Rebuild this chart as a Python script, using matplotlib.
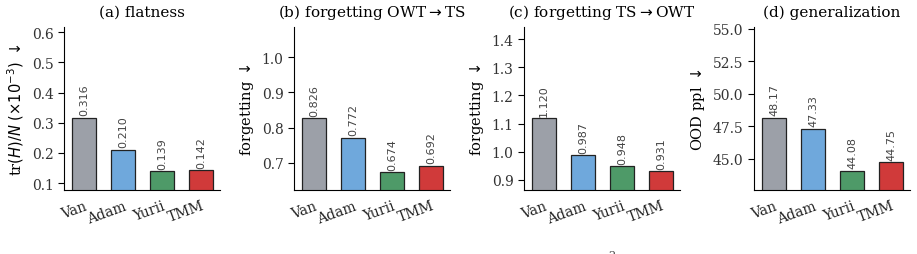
import matplotlib
matplotlib.use("Agg")
import matplotlib.pyplot as plt
import numpy as np

methods = ["Van", "Adam", "Yurii", "TMM"]
colors = ["#9ca0a8", "#6fa8dc", "#4e9a68", "#d03a3a"]

flatness = [0.316, 0.210, 0.139, 0.142]
forget_owt_ts = [0.826, 0.772, 0.674, 0.692]
forget_ts_owt = [1.120, 0.987, 0.948, 0.931]
ood_ppl = [48.17, 47.33, 44.08, 44.75]

panels = [
    ("(a) flatness", r"tr$(H)/N$ $(\times 10^{-3})$ $\downarrow$", flatness,
     "%.3f", (0.077, 0.617), [0.1, 0.2, 0.3, 0.4, 0.5, 0.6], "%.1f"),
    ("(b) forgetting OWT$\\rightarrow$TS", r"forgetting $\downarrow$", forget_owt_ts,
     "%.3f", (0.6235, 1.085), [0.7, 0.8, 0.9, 1.0], "%.1f"),
    ("(c) forgetting TS$\\rightarrow$OWT", r"forgetting $\downarrow$", forget_ts_owt,
     "%.3f", (0.8645, 1.443), [0.9, 1.0, 1.1, 1.2, 1.3, 1.4], "%.1f"),
    ("(d) generalization", r"OOD ppl $\downarrow$", ood_ppl,
     "%.2f", (42.6, 55.15), [45.0, 47.5, 50.0, 52.5, 55.0], "%.1f"),
]

plt.rcParams["font.family"] = "DejaVu Serif"
plt.rcParams["mathtext.fontset"] = "dejavusans"

fig = plt.figure(figsize=(9.17, 2.55), dpi=100)
lefts = [64, 294, 524, 754]
x = np.arange(len(methods))

for left, (title, ylabel, vals, fmt, ylim, yticks, tfmt) in zip(lefts, panels):
    ax = fig.add_axes([left / 917, 64 / 255, 156 / 917, 163 / 255])
    ax.bar(x, vals, width=0.62, color=colors, edgecolor="#222222", linewidth=0.9)
    span = ylim[1] - ylim[0]
    for xi, v in zip(x, vals):
        ax.text(xi, v + span * 0.015, fmt % v, rotation=90, ha="center", va="bottom",
                fontsize=8, family="DejaVu Sans", color="#444444")
    ax.set_xlim(-0.52, 3.48)
    ax.set_ylim(*ylim)
    ax.set_yticks(yticks)
    ax.set_yticklabels([tfmt % t for t in yticks], fontsize=10, color="#333333")
    ax.set_xticks(x)
    ax.set_xticklabels(methods, rotation=20, ha="right", rotation_mode="anchor",
                       fontsize=10, color="#222222")
    ax.tick_params(axis="x", length=0, pad=6)
    ax.tick_params(axis="y", length=4, width=0.8)
    ax.spines["top"].set_visible(False)
    ax.spines["right"].set_visible(False)
    ax.set_title(title, fontsize=11, pad=8)
    ax.set_ylabel(ylabel, fontsize=10.5)

fig.text(612 / 917, -0.025, "2", fontsize=8, ha="center", va="bottom", color="#444444")

fig.savefig("out.png", dpi=100)
